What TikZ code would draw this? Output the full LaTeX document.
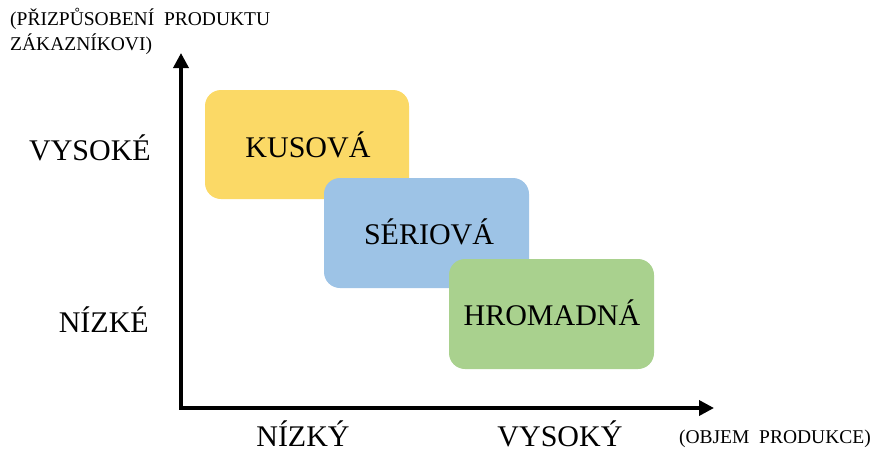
\documentclass[tikz,border=0pt]{standalone}
\usepackage{fontspec}
\setmainfont{Liberation Serif}
\usetikzlibrary{arrows.meta}
\definecolor{kusfill}{HTML}{FBD966}
\definecolor{serfill}{HTML}{9DC3E6}
\definecolor{hromfill}{HTML}{A9D18E}
\tikzset{
  typebox/.style={rounded corners=16pt, inner sep=0pt},
  biglabel/.style={font=\fontsize{30}{32}\selectfont, inner sep=0pt},
  smalllabel/.style={font=\fontsize{19.5}{25}\selectfont, inner sep=0pt, align=left},
  axis/.style={line width=3.5pt, line join=miter,
    {Triangle[length=15pt,width=15pt]}-{Triangle[length=15pt,width=15pt]}}
}
\begin{document}
\begin{tikzpicture}[x=1pt, y=-1pt]
\useasboundingbox (0,0) rectangle (871,450);

% production type boxes, drawn back to front
\fill[kusfill, typebox]  (205,90)  rectangle (409,199);
\fill[serfill, typebox]  (324,178) rectangle (529,288);
\fill[hromfill, typebox] (449,259) rectangle (654,369);
\node[biglabel] (kus)  at (308,145) {KUSOVÁ};
\node[biglabel] (ser)  at (429,232) {SÉRIOVÁ};
\node[biglabel] (hrom) at (552,313) {HROMADNÁ};

% axes
\coordinate (ytip) at (181,53);
\coordinate (orig) at (181,408);
\coordinate (xtip) at (714,408);
\draw[axis] (ytip) -- (orig) -- (xtip);

% axis values
\node[biglabel, anchor=east] (yhi) at (151,148) {VYSOKÉ};
\node[biglabel, anchor=east] (ylo) at (149,320) {NÍZKÉ};
\node[biglabel, anchor=base] (xlo) at (303,446) {NÍZKÝ};
\node[biglabel, anchor=base] (xhi) at (560,446) {VYSOKÝ};

% axis titles
\node[smalllabel, anchor=north west] (ytitle) at (10,8)
  {(PŘIZPŮSOBENÍ\ \ PRODUKTU\\ZÁKAZNÍKOVI)};
\node[smalllabel, anchor=east] (xtitle) at (871,439) {(OBJEM\ \ PRODUKCE)};
\end{tikzpicture}
\end{document}
